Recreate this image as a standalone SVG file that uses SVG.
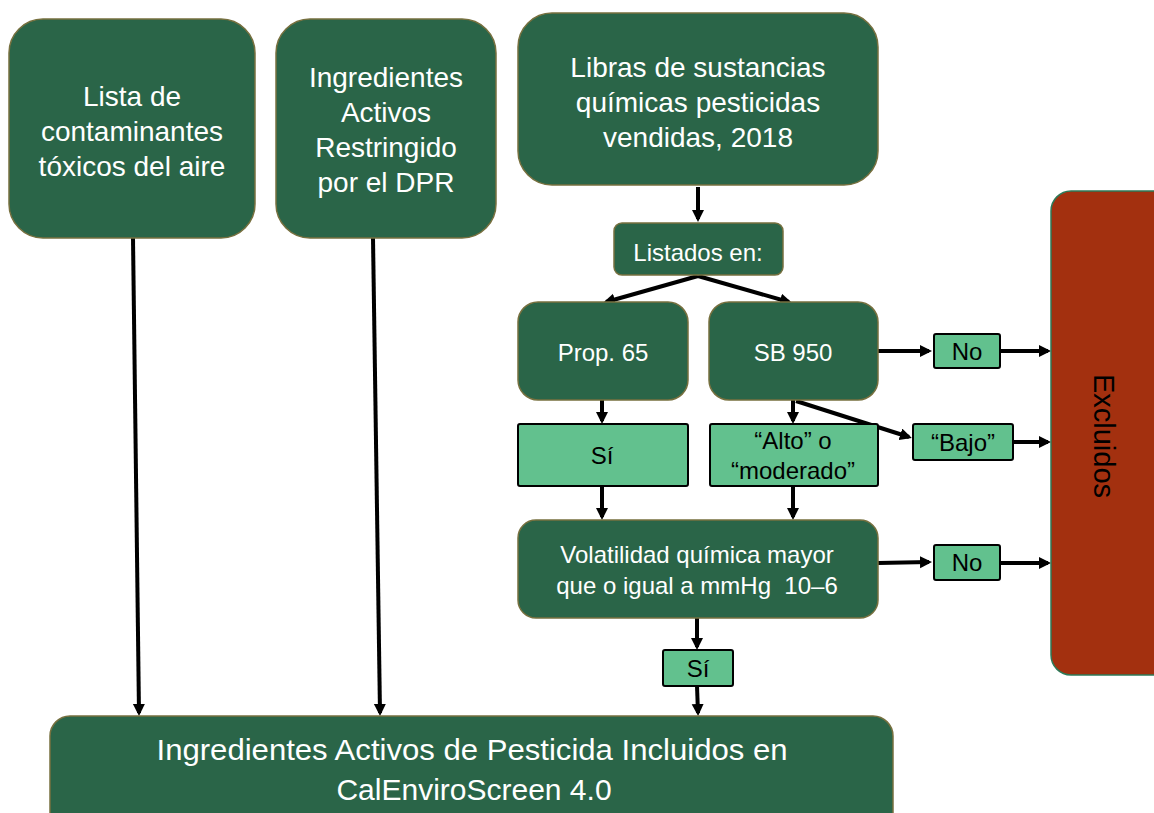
<svg xmlns="http://www.w3.org/2000/svg" width="1154" height="813" viewBox="0 0 1154 813">
<style>
.dk{fill:#2a6548;stroke:#77703f;stroke-width:1.5}
.lt{fill:#62c18e;stroke:#000;stroke-width:2}
.ex{fill:#a3300f;stroke:#2e7a58;stroke-width:1.5}
text{font-family:"Liberation Sans",Arial,sans-serif;text-anchor:middle}
.w{fill:#fff}
.b{fill:#000}
.c line{stroke:#000;stroke-width:4;marker-end:url(#ah)}
</style>
<defs>
<marker id="ah" markerUnits="userSpaceOnUse" markerWidth="14" markerHeight="14" refX="9" refY="6" orient="auto">
<path d="M0,0 L12,6 L0,12 z" fill="#000"/>
</marker>
</defs>
<rect width="1154" height="813" fill="#fff"/>
<g class="c">
<line x1="133" y1="238" x2="139" y2="713"/>
<line x1="373" y1="238" x2="380" y2="713"/>
<line x1="698" y1="187" x2="698" y2="219"/>
<line x1="698" y1="276" x2="606" y2="302"/>
<line x1="698" y1="276" x2="789" y2="302"/>
<line x1="878" y1="351" x2="929" y2="351"/>
<line x1="1000" y1="351" x2="1048" y2="351"/>
<line x1="602" y1="400" x2="602" y2="421"/>
<line x1="793" y1="400" x2="793" y2="421"/>
<line x1="796" y1="401" x2="909" y2="437"/>
<line x1="1013" y1="442" x2="1048" y2="442"/>
<line x1="602" y1="486" x2="602" y2="517"/>
<line x1="793" y1="486" x2="793" y2="517"/>
<line x1="878" y1="563" x2="929" y2="562"/>
<line x1="1000" y1="563" x2="1048" y2="563"/>
<line x1="697" y1="618" x2="697" y2="647"/>
<line x1="697" y1="686" x2="698" y2="713"/>
</g>
<g id="n-lista">
<rect class="dk" x="9" y="19" width="246" height="219" rx="34"/>
<text class="w" font-size="28" x="132" y="106">Lista de</text>
<text class="w" font-size="28" x="132" y="141">contaminantes</text>
<text class="w" font-size="28" x="132" y="176">tóxicos del aire</text>
</g>
<g id="n-dpr">
<rect class="dk" x="276" y="19" width="220" height="219" rx="34"/>
<text class="w" font-size="28" x="386" y="87">Ingredientes</text>
<text class="w" font-size="28" x="386" y="122">Activos</text>
<text class="w" font-size="28" x="386" y="157">Restringido</text>
<text class="w" font-size="28" x="386" y="192">por el DPR</text>
</g>
<g id="n-libras">
<rect class="dk" x="518" y="13" width="360" height="172" rx="34"/>
<text class="w" font-size="28" x="698" y="77">Libras de sustancias</text>
<text class="w" font-size="28" x="698" y="112">químicas pesticidas</text>
<text class="w" font-size="28" x="698" y="147">vendidas, 2018</text>
</g>
<g id="n-listados">
<rect class="dk" x="614" y="223" width="169" height="52" rx="8"/>
<text class="w" font-size="24" x="698" y="261">Listados en:</text>
</g>
<g id="n-prop65">
<rect class="dk" x="518" y="302" width="170" height="98" rx="20"/>
<text class="w" font-size="24" x="603" y="361">Prop. 65</text>
</g>
<g id="n-sb950">
<rect class="dk" x="709" y="302" width="169" height="98" rx="20"/>
<text class="w" font-size="24" x="793" y="361">SB 950</text>
</g>
<g id="n-no1">
<rect class="lt" x="934" y="334" width="66" height="34" rx="2"/>
<text class="b" font-size="24" x="967" y="360">No</text>
</g>
<g id="n-si1">
<rect class="lt" x="518" y="424" width="170" height="62" rx="2"/>
<text class="b" font-size="24" x="602" y="464">Sí</text>
</g>
<g id="n-alto">
<rect class="lt" x="710" y="424" width="168" height="62" rx="2"/>
<text class="b" font-size="24" x="793" y="449">“Alto” o</text>
<text class="b" font-size="24" x="793" y="479">“moderado”</text>
</g>
<g id="n-bajo">
<rect class="lt" x="913" y="424" width="100" height="36" rx="2"/>
<text class="b" font-size="24" x="963" y="451">“Bajo”</text>
</g>
<g id="n-vol">
<rect class="dk" x="518" y="520" width="360" height="98" rx="18"/>
<text class="w" font-size="24" x="697" y="563">Volatilidad química mayor</text>
<text class="w" font-size="24" x="697" y="594" xml:space="preserve">que o igual a mmHg  10–6</text>
</g>
<g id="n-no2">
<rect class="lt" x="934" y="545" width="66" height="35" rx="2"/>
<text class="b" font-size="24" x="967" y="571">No</text>
</g>
<g id="n-si2">
<rect class="lt" x="663" y="650" width="70" height="36" rx="2"/>
<text class="b" font-size="24" x="698" y="677">Sí</text>
</g>
<g id="n-excluidos">
<rect class="ex" x="1051" y="191" width="130" height="484" rx="20"/>
<text class="b" font-size="29" x="1104" y="436" dominant-baseline="central" transform="rotate(90 1104 436)">Excluidos</text>
</g>
<g id="n-incluidos">
<rect class="dk" x="50" y="716" width="843" height="120" rx="20"/>
<text class="w" font-size="30" x="472" y="760" textLength="631" lengthAdjust="spacingAndGlyphs">Ingredientes Activos de Pesticida Incluidos en</text>
<text class="w" font-size="30" x="474" y="800">CalEnviroScreen 4.0</text>
</g>
</svg>
